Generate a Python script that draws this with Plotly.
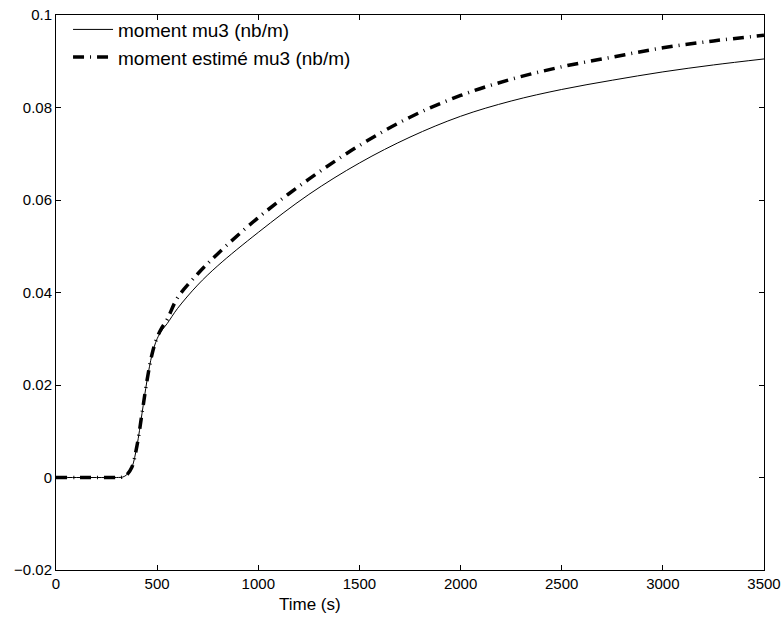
import plotly.graph_objects as go

time_s = [0, 100, 200, 300, 330, 350, 375, 400, 425, 450, 475, 500, 525, 550, 600, 700, 800,
          1000, 1250, 1500, 1750, 2000, 2250, 2500, 2750, 3000, 3250, 3500]
mu3 = [0, 0, 0, 0, 0.0001, 0.0006, 0.0022, 0.0068, 0.0138, 0.0210, 0.0266, 0.0300, 0.0319,
       0.0333, 0.0365, 0.0416, 0.0458, 0.0530, 0.0612, 0.0680, 0.0736, 0.0781, 0.0814,
       0.0839, 0.0859, 0.0877, 0.0892, 0.0905]
mu3_est = [0, 0, 0, 0, 0.0001, 0.0006, 0.0022, 0.0068, 0.0138, 0.0210, 0.0267, 0.0303, 0.0325,
           0.0342, 0.0388, 0.0440, 0.0484, 0.0562, 0.0645, 0.0718, 0.0779, 0.0826, 0.0861,
           0.0888, 0.0909, 0.0929, 0.0944, 0.0956]

x_ticks = [0, 500, 1000, 1500, 2000, 2500, 3000, 3500]
y_ticks = [-0.02, 0, 0.02, 0.04, 0.06, 0.08, 0.1]
y_tick_labels = ["\u22120.02", "0", "0.02", "0.04", "0.06", "0.08", "0.1"]
x_title = "Time (s)"

FONT = "Liberation Sans, Arial, Helvetica"

fig = go.Figure()
fig.add_trace(go.Scatter(x=time_s, y=mu3, mode="lines", name="moment mu3 (nb/m)",
                         line=dict(color="black", width=1, shape="spline", smoothing=1.0)))
fig.add_trace(go.Scatter(x=time_s, y=mu3_est, mode="lines", name="moment estimé mu3 (nb/m)",
                         line=dict(color="black", width=3.5, dash="11px,6px,1px,6px",
                                   shape="spline", smoothing=1.0)))

axis_common = dict(showline=True, linecolor="black", linewidth=1, mirror="ticks",
                   ticks="inside", ticklen=5, tickcolor="black", tickwidth=1,
                   showgrid=False, zeroline=False, automargin=False,
                   tickfont=dict(family=FONT, size=15, color="black"))

fig.update_layout(
    width=784, height=634,
    margin=dict(l=56, r=20, t=11, b=64),
    paper_bgcolor="white", plot_bgcolor="white",
    font=dict(family=FONT, color="black"),
    xaxis=dict(range=[0, 3500], tickvals=x_ticks, ticktext=[str(v) for v in x_ticks],
               **axis_common),
    yaxis=dict(range=[-0.02, 0.1], tickvals=y_ticks, ticktext=y_tick_labels, **axis_common),
    legend=dict(x=0.017, y=1.008, xanchor="left", yanchor="top", bgcolor="rgba(0,0,0,0)",
                font=dict(size=19, family=FONT), itemwidth=40,
                tracegroupgap=0),
    showlegend=True,
)
fig.add_annotation(text=x_title, xref="paper", yref="paper", x=0.359, y=-0.062,
                   xanchor="center", yanchor="middle", showarrow=False,
                   font=dict(size=17, family=FONT, color="black"))

fig.write_html("out.html", config={"displayModeBar": False},
               post_script="document.body.style.margin='0';document.body.style.padding='0';")
